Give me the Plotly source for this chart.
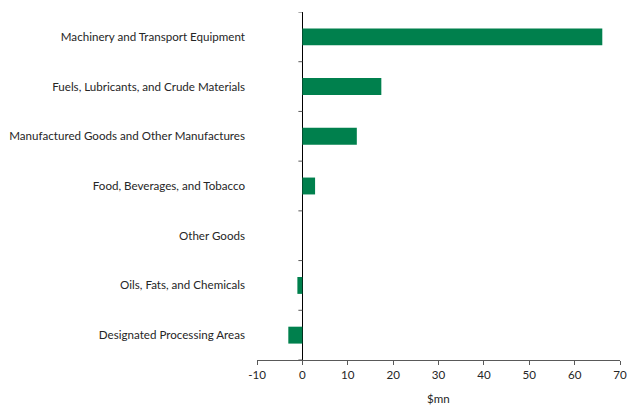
import plotly.graph_objects as go

# Net change by product group, $ millions
categories = [
    "Machinery and Transport Equipment",
    "Fuels, Lubricants, and Crude Materials",
    "Manufactured Goods and Other Manufactures",
    "Food, Beverages, and Tobacco",
    "Other Goods",
    "Oils, Fats, and Chemicals",
    "Designated Processing Areas",
]
values = [66.1, 17.4, 12.0, 2.8, 0.0, -1.1, -3.1]
x_ticks = [-10, 0, 10, 20, 30, 40, 50, 60, 70]

GREEN = "#00804D"
TEXT = "#262626"
FONT = "Lato"
SIZE = 11.6

fig = go.Figure(
    go.Bar(
        x=values,
        y=categories,
        orientation="h",
        width=0.34,
        marker=dict(color=GREEN, line=dict(width=0)),
        hoverinfo="x+y",
    )
)

# small tick marks on the zero axis at category boundaries
shapes = []
for k in range(len(categories) + 1):
    shapes.append(
        dict(
            type="line",
            xref="x",
            yref="y",
            xsizemode="pixel",
            xanchor=0,
            x0=-4,
            x1=0,
            y0=k - 0.5,
            y1=k - 0.5,
            line=dict(color="#595959", width=1),
        )
    )

fig.update_layout(
    width=627,
    height=406,
    margin=dict(l=257, r=7, t=12, b=46),
    paper_bgcolor="white",
    plot_bgcolor="white",
    showlegend=False,
    font=dict(family=FONT, size=SIZE, color=TEXT),
    shapes=shapes,
    xaxis=dict(
        range=[-10, 70],
        tickvals=x_ticks,
        ticktext=[str(v) for v in x_ticks],
        ticks="outside",
        ticklen=4,
        tickcolor="#595959",
        showline=True,
        linecolor="#595959",
        linewidth=1,
        showgrid=False,
        zeroline=True,
        zerolinecolor="black",
        zerolinewidth=1.3,
        tickfont=dict(family=FONT, size=SIZE, color=TEXT),
        automargin=False,
        fixedrange=True,
    ),
    yaxis=dict(
        range=[len(categories) - 0.5, -0.5],
        showgrid=False,
        showline=False,
        ticks="",
        ticklabelstandoff=11,
        tickfont=dict(family=FONT, size=SIZE, color=TEXT),
        automargin=False,
        fixedrange=True,
    ),
    annotations=[
        dict(
            text="$mn",
            xref="paper",
            yref="paper",
            x=0.5,
            y=-30 / 348,
            xanchor="center",
            yanchor="top",
            showarrow=False,
            font=dict(family=FONT, size=SIZE, color=TEXT),
        )
    ],
)

fig.write_html("out.html")
